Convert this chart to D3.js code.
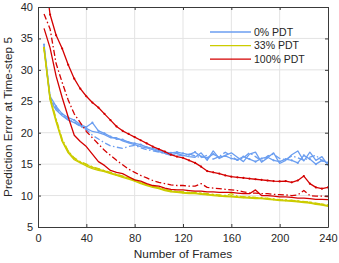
<!DOCTYPE html>
<html>
<head>
<meta charset="utf-8">
<script src="https://cdn.jsdelivr.net/npm/d3@7"></script>
<style>
  body { margin: 0; background: #fff; }
  svg { display: block; font-family: "Liberation Sans", Arial, sans-serif; }
  .grid line { stroke: #e3e3e3; stroke-width: 1; }
  .axis text { font-size: 11px; fill: #262626; }
  .axis path, .axis line { stroke: #3a3a3a; }
</style>
</head>
<body>
<div id="chart"></div>
<script>
// frames sampled along the x axis
const frames = [5, 10, 15, 20, 25, 30, 35, 40, 45, 50, 55, 60, 65, 70, 75, 80,
                85, 90, 95, 100, 105, 110, 115, 120, 125, 130, 135, 140, 145, 150, 155, 160,
                165, 170, 175, 180, 185, 190, 195, 200, 205, 210, 215, 220, 225, 230, 235, 240];

// 0% PDT runs
const blueDots = [34.0, 25.8, 24.2, 23.0, 22.4, 22.0, 21.3, 20.9, 21.6, 20.3, 19.9, 19.4, 19.0, 18.9, 18.5, 18.3,
                  18.1, 17.7, 17.5, 17.2, 16.9, 16.8, 16.9, 16.7, 16.5, 16.9, 16.2, 16.0, 16.6, 16.1, 16.3, 15.9,
                  15.7, 16.2, 15.8, 15.4, 15.9, 16.1, 15.6, 15.4, 15.8, 15.6, 15.2, 16.4, 15.8, 15.0, 15.6, 15.2];
const blueSolid = [33.6, 25.3, 23.6, 22.7, 22.0, 21.6, 21.1, 20.7, 20.2, 20.0, 19.7, 19.2, 19.2, 18.7, 18.4, 18.1,
                   17.8, 17.6, 17.3, 17.0, 16.7, 16.5, 16.7, 16.4, 16.2, 16.1, 16.8, 15.6, 17.1, 15.9, 16.4, 16.8,
                   16.1, 15.4, 16.6, 16.9, 15.3, 16.0, 16.8, 15.1, 15.6, 16.5, 17.1, 15.5, 16.9, 15.6, 16.2, 14.8];
const blueDashDot = [33.8, 25.6, 23.9, 22.8, 22.1, 21.7, 21.0, 20.5, 19.6, 19.0, 18.4, 17.9, 17.7, 17.5, 17.8, 18.0,
                     17.6, 17.3, 17.1, 16.9, 16.7, 16.4, 16.5, 16.3, 16.6, 16.3, 16.0, 16.4, 15.8, 16.2, 16.9, 16.3,
                     15.6, 16.0, 16.8, 16.2, 15.5, 16.3, 16.6, 15.9, 15.7, 16.3, 16.0, 15.6, 16.1, 16.4, 15.5, 15.4];

// 33% PDT runs
const yellowDots = [33.5, 25.5, 22.0, 18.8, 17.0, 15.9, 15.3, 14.9, 14.5, 14.2, 13.9, 13.6, 13.3, 13.0, 12.8, 12.4,
                    12.0, 11.7, 11.45, 11.2, 10.9, 10.7, 10.6, 10.5, 10.45, 10.4, 10.3, 10.2, 10.1, 10.0, 9.95, 9.9,
                    9.8, 9.75, 9.7, 9.65, 9.6, 9.5, 9.4, 9.3, 9.25, 9.2, 9.1, 9.0, 8.9, 8.7, 8.6, 8.4];
const yellowSolid = [33.2, 25.2, 21.7, 18.6, 16.8, 15.7, 15.2, 14.7, 14.3, 14.0, 13.8, 13.5, 13.2, 12.9, 12.6, 12.3,
                     11.9, 11.6, 11.3, 11.1, 10.8, 10.6, 10.5, 10.4, 10.3, 10.3, 10.2, 10.1, 10.0, 9.9, 9.85, 9.8,
                     9.7, 9.65, 9.6, 9.5, 9.5, 9.4, 9.3, 9.2, 9.15, 9.1, 9.0, 8.9, 8.8, 8.6, 8.5, 8.3];
const yellowDashDot = [33.4, 25.7, 22.2, 19.0, 17.1, 16.0, 15.4, 15.0, 14.6, 14.3, 14.0, 13.7, 13.4, 13.1, 12.9, 12.5,
                       12.1, 11.8, 11.5, 11.3, 11.0, 10.8, 10.7, 10.6, 10.5, 10.5, 10.4, 10.3, 10.2, 10.1, 10.0, 10.3,
                       9.9, 9.8, 9.8, 9.7, 9.65, 9.55, 9.45, 9.35, 9.3, 9.25, 9.15, 9.05, 8.95, 8.8, 8.65, 8.5];

// 100% PDT runs
const redDots = [46.0, 38.8, 35.5, 33.4, 30.8, 28.6, 27.0, 25.8, 24.8, 24.0, 23.0, 22.0, 21.0, 20.3, 19.8, 19.3,
                 18.8, 18.3, 17.8, 17.4, 17.0, 16.5, 16.2, 16.0, 15.6, 15.2, 14.6, 13.9, 13.7, 13.5, 13.2, 13.0,
                 12.9, 12.8, 12.7, 12.6, 12.5, 12.4, 12.3, 12.25, 12.3, 12.1, 12.4, 13.1, 11.9, 11.3, 11.1, 11.3];
const redSolid = [36.6, 33.5, 29.0, 25.6, 22.5, 19.6, 18.6, 17.8, 16.6, 15.4, 14.8, 14.0, 13.7, 13.5, 13.0, 12.5,
                  12.3, 11.9, 11.6, 11.5, 11.2, 11.0, 10.9, 10.9, 10.8, 10.7, 10.7, 10.6, 10.6, 10.5, 10.5, 10.5,
                  10.4, 10.3, 10.3, 10.9, 10.0, 10.0, 9.9, 9.8, 9.8, 9.7, 9.6, 9.6, 9.5, 9.4, 9.4, 9.35];
const redDashDot = [38.9, 36.5, 31.0, 28.0, 25.2, 23.0, 21.6, 20.2, 19.2, 18.2, 17.2, 16.4, 15.6, 14.9, 14.2, 13.7,
                    13.2, 12.8, 12.4, 12.1, 11.9, 11.7, 11.6, 11.6, 11.5, 11.5, 11.9, 11.3, 11.2, 11.1, 11.0, 10.9,
                    10.8, 10.6, 10.4, 10.4, 10.3, 10.3, 10.2, 10.15, 10.1, 10.0, 10.1, 10.8, 10.0, 9.9, 9.9, 9.85];

const legendLabels = ["0% PDT", "33% PDT", "100% PDT"];
const xTicks = [0, 40, 80, 120, 160, 200, 240];
const yTicks = [5, 10, 15, 20, 25, 30, 35, 40];

/* ===== Constants ===== */
const width = 339;
const height = 263;
const margin = {top: 7, right: 11, bottom: 36, left: 38};
const colors = {blue: "#6b9ef0", yellow: "#cccc00", red: "#d40000"};
const dashDot = "6,2.5,1.5,2.5";

const series = [
    {values: blueSolid, color: colors.blue, dash: null, dots: false},
    {values: blueDashDot, color: colors.blue, dash: dashDot, dots: false},
    {values: blueDots, color: colors.blue, dash: null, dots: true},
    {values: yellowSolid, color: colors.yellow, dash: null, dots: false},
    {values: yellowDashDot, color: colors.yellow, dash: dashDot, dots: false},
    {values: yellowDots, color: colors.yellow, dash: null, dots: true},
    {values: redSolid, color: colors.red, dash: null, dots: false},
    {values: redDashDot, color: colors.red, dash: dashDot, dots: false},
    {values: redDots, color: colors.red, dash: null, dots: true}
];

const svg = d3.select("#chart")
              .append("svg")
              .attr("width", width)
              .attr("height", height);

const x = d3.scaleLinear()
            .domain([0, 240])
            .range([margin.left, width - margin.right]);

const y = d3.scaleLinear()
            .domain([5, 40])
            .range([height - margin.bottom, margin.top]);

// grid lines
svg.append("g")
   .classed("grid", true)
   .selectAll("line.v")
   .data(xTicks.slice(1, -1))
   .join("line")
   .attr("x1", d => x(d)).attr("x2", d => x(d))
   .attr("y1", y(5)).attr("y2", y(40));

svg.append("g")
   .classed("grid", true)
   .selectAll("line.h")
   .data(yTicks.slice(1, -1))
   .join("line")
   .attr("x1", x(0)).attr("x2", x(240))
   .attr("y1", d => y(d)).attr("y2", d => y(d));

svg.append("clipPath")
   .attr("id", "plot-clip")
   .append("rect")
   .attr("x", x(0)).attr("y", y(40))
   .attr("width", x(240) - x(0))
   .attr("height", y(5) - y(40));

const line = d3.line()
               .x((d, i) => x(frames[i]))
               .y(d => y(d));

const plot = svg.append("g").attr("clip-path", "url(#plot-clip)");

series.forEach(s => {
    plot.append("path")
        .datum(s.values)
        .attr("fill", "none")
        .attr("stroke", s.color)
        .attr("stroke-width", 1.3)
        .attr("stroke-linejoin", "round")
        .attr("stroke-dasharray", s.dash)
        .attr("d", line);

    if (s.dots) {
        plot.append("g")
            .selectAll("circle")
            .data(s.values)
            .join("circle")
            .attr("cx", (d, i) => x(frames[i]))
            .attr("cy", d => y(d))
            .attr("r", 1.1)
            .attr("fill", s.color);
    }
});

// axes with inward ticks on all four sides (box)
const tickLen = 3;
svg.append("g")
   .classed("axis", true)
   .attr("transform", `translate(0,${y(5)})`)
   .call(d3.axisBottom(x).tickValues(xTicks).tickSizeInner(-tickLen).tickSizeOuter(0).tickPadding(6))
   .call(g => g.selectAll("text").attr("dy", "0.85em"));

svg.append("g")
   .classed("axis", true)
   .attr("transform", `translate(${x(0)},0)`)
   .call(d3.axisLeft(y).tickValues(yTicks).tickSizeInner(-tickLen).tickSizeOuter(0).tickPadding(5));

svg.append("g")
   .classed("axis", true)
   .attr("transform", `translate(0,${y(40)})`)
   .call(d3.axisTop(x).tickValues(xTicks).tickSizeInner(-tickLen).tickSizeOuter(0).tickFormat(() => null));

svg.append("g")
   .classed("axis", true)
   .attr("transform", `translate(${x(240)},0)`)
   .call(d3.axisRight(y).tickValues(yTicks).tickSizeInner(-tickLen).tickSizeOuter(0).tickFormat(() => null));

// axis labels
svg.append("text")
   .attr("x", (x(0) + x(240)) / 2)
   .attr("y", 258)
   .attr("text-anchor", "middle")
   .attr("font-size", 11.8)
   .attr("fill", "#262626")
   .text("Number of Frames");

svg.append("text")
   .attr("transform", `translate(12,${(y(5) + y(40)) / 2}) rotate(-90)`)
   .attr("text-anchor", "middle")
   .attr("font-size", 11.8)
   .attr("fill", "#262626")
   .text("Prediction Error at Time-step 5");

// legend
const legend = svg.append("g").attr("transform", "translate(210,32)");
[colors.blue, colors.yellow, colors.red].forEach((c, i) => {
    const row = legend.append("g").attr("transform", `translate(0,${i * 13.6})`);
    row.append("line")
       .attr("x1", 0).attr("x2", 41)
       .attr("stroke", c)
       .attr("stroke-width", 1.3);
    row.append("text")
       .attr("x", 44)
       .attr("dy", "0.35em")
       .attr("font-size", 10.5)
       .attr("fill", "#262626")
       .text(legendLabels[i]);
});
</script>
</body>
</html>
